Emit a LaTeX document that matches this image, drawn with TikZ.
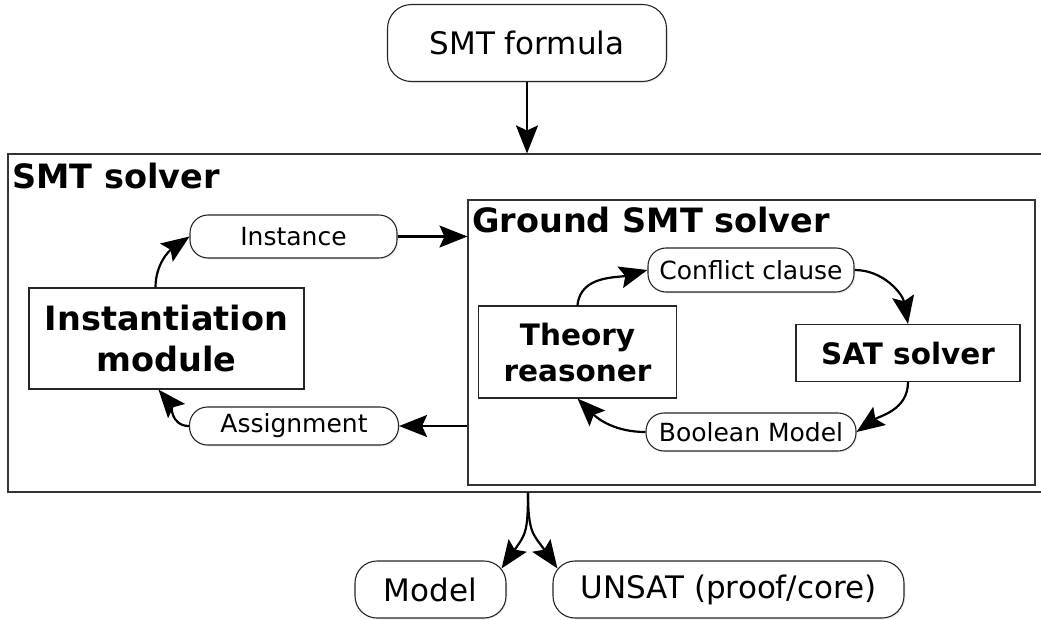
\documentclass[tikz,border=0pt]{standalone}
\usepackage{fontspec}
\setmainfont{DejaVu Sans}
\usetikzlibrary{arrows.meta,shadows}

\tikzset{
  pill/.style={draw=black!85, line width=1.1pt, fill=white, inner sep=0pt,
    drop shadow={opacity=0.12, shadow xshift=1.5pt, shadow yshift=-1.5pt}},
  smallpill/.style={pill, rounded corners=18pt, font=\fontsize{25}{30}\selectfont},
  bigpill/.style={pill, rounded corners=22pt, font=\fontsize{31}{37}\selectfont},
  block/.style={draw=black!85, line width=1.1pt, fill=white, inner sep=0pt,
    align=center, font=\bfseries\fontsize{29.5}{36}\selectfont},
  frame/.style={draw=black!80, line width=1.1pt, inner sep=0pt},
  title/.style={anchor=base west, inner sep=0pt, font=\bfseries\fontsize{33.5}{40}\selectfont},
  flow/.style={line width=2.2pt, -{Stealth[length=28pt,width=22pt,inset=5pt]}},
}

\begin{document}
\begin{tikzpicture}[x=1pt,y=-1pt]
\useasboundingbox (0,0) rectangle (1041,619);
\clip (0,0) rectangle (1041,619);

% solver frames
\node[frame, minimum width=1060pt, minimum height=338pt] (smt) at (538,323) {};
\node[title] (smttitle) at (12,188) {SMT solver};
\node[frame, fill=white, minimum width=567pt, minimum height=285pt] (ground) at (751.5,342.5) {};
\node[title] (groundtitle) at (472,232) {Ground SMT solver};

% input and outputs
\node[bigpill, rounded corners=24pt, minimum width=279pt, minimum height=77pt] (formula) at (527,43) {SMT formula};
\node[bigpill, minimum width=151pt, minimum height=57pt] (model) at (430.5,589.5) {Model};
\node[bigpill, minimum width=351pt, minimum height=57pt] (unsat) at (728.5,589.5) {UNSAT (proof/core)};

% instantiation loop
\node[block, font=\bfseries\fontsize{33.5}{41}\selectfont, minimum width=275pt, minimum height=101pt] (inst) at (166.5,338.5) {Instantiation\\module};
\node[smallpill, minimum width=207pt, minimum height=43pt] (instance) at (293.5,236.5) {Instance};
\node[smallpill, minimum width=209pt, minimum height=38pt] (assign) at (294,426) {Assignment};

% ground solver loop
\node[block, minimum width=198pt, minimum height=92pt] (theory) at (577.5,352) {Theory\\reasoner};
\node[block, minimum width=224pt, minimum height=57pt] (sat) at (908,353) {SAT solver};
\node[smallpill, minimum width=206pt, minimum height=44pt] (conflict) at (751,270) {Conflict clause};
\node[smallpill, minimum width=210pt, minimum height=38pt] (boolean) at (751,432) {Boolean Model};

% connectors
\draw[flow] (formula.south) -- (formula.south |- smt.north);

\draw[flow] ([xshift=-11pt]inst.north) to[out=90,in=215] (instance.west);
\draw[flow] (instance.east) -- (instance.east -| ground.west);
\draw[flow] (assign.east -| ground.west) -- (assign.east);
\draw[flow] (assign.west) to[out=180,in=-50] ([xshift=-8pt]inst.south);

\draw[flow] (theory.north) to[out=85,in=195] (conflict.west);
\draw[flow] (conflict.east) to[out=0,in=100] (sat.north);
\draw[flow] (sat.south) to[out=-90,in=35] (boolean.east);
\draw[flow] (boolean.west) to[out=180,in=-45] (theory.south);

\coordinate (fork) at (528,492);
\draw[flow] (fork) to[out=-90,in=55,looseness=1.3] ([shift={(-5,8)}]model.north east);
\draw[flow] (fork) to[out=-90,in=125,looseness=1.3] ([shift={(5,8)}]unsat.north west);
\end{tikzpicture}
\end{document}
